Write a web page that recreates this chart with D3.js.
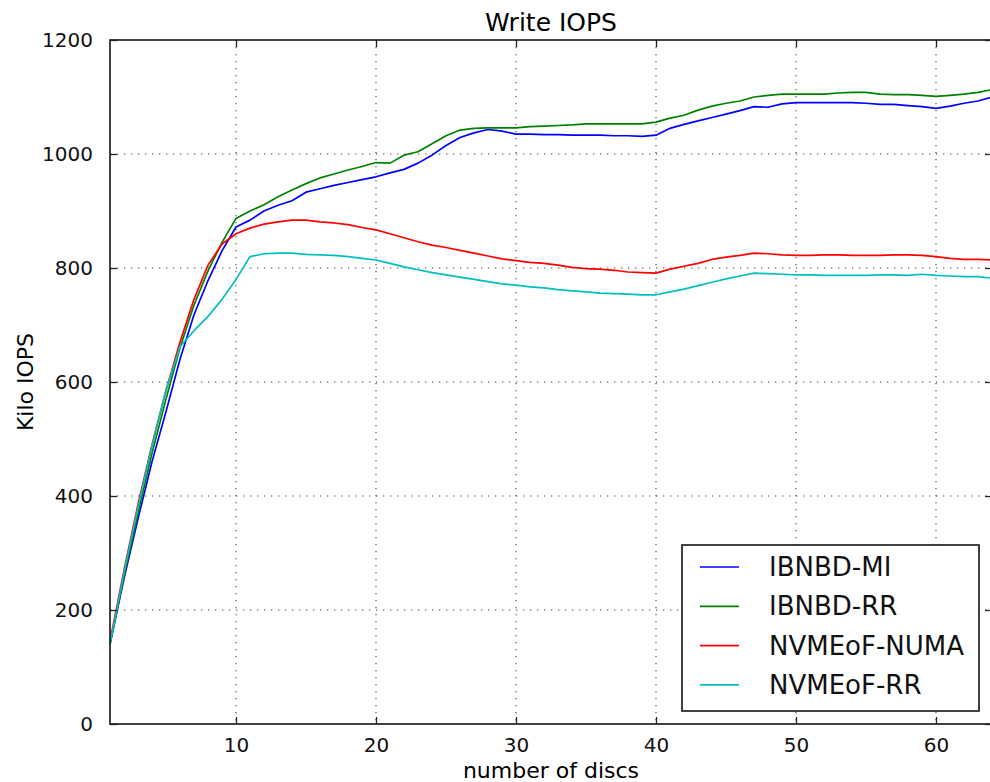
<!DOCTYPE html>
<html>
<head>
<meta charset="utf-8">
<script src="https://cdn.jsdelivr.net/npm/d3@7"></script>
<style>
    body { margin: 0; background: #fff; }
    svg { display: block; font-family: "DejaVu Sans", sans-serif; }
    .grid line { stroke: #444; stroke-width: 1.1; stroke-dasharray: 1.3, 5.7; }
</style>
</head>
<body>
<script>
// DATA

let discs = d3.range(1, 65)     // x values: 1 .. 64 discs

let ibnbdMI = [
    140, 255, 360, 460, 548, 640, 718, 778, 830, 872,
    884, 900, 910, 918, 933, 939, 945, 950, 955, 960,
    967, 973, 984, 998, 1015, 1029, 1037, 1043, 1040, 1035,
    1035, 1034, 1034, 1033, 1033, 1033, 1032, 1032, 1031, 1033,
    1045, 1052, 1058, 1064, 1070, 1076, 1083, 1082, 1088, 1090,
    1090, 1090, 1090, 1090, 1089, 1087, 1087, 1085, 1083, 1080,
    1084, 1089, 1093, 1100
]

let ibnbdRR = [
    140, 260, 370, 475, 570, 660, 735, 795, 845, 887,
    900, 911, 925, 937, 948, 958, 965, 972, 978, 985,
    984, 998, 1004, 1018, 1032, 1042, 1045, 1046, 1046, 1046,
    1048, 1049, 1050, 1051, 1053, 1053, 1053, 1053, 1053, 1056,
    1063, 1068, 1077, 1084, 1089, 1093, 1100, 1103, 1105, 1105,
    1105, 1105, 1107, 1108, 1108, 1105, 1104, 1104, 1103, 1101,
    1103, 1105, 1108, 1113
]

let nvmeNUMA = [
    145, 270, 385, 490, 585, 670, 745, 805, 842, 860,
    870, 877, 881, 884, 884, 881, 879, 876, 871, 867,
    860, 853, 846, 840, 836, 831, 826, 821, 816, 813,
    810, 808, 805, 801, 799, 798, 796, 793, 792, 791,
    798, 803, 808, 815, 819, 822, 826, 825, 823, 822,
    822, 823, 823, 822, 822, 822, 823, 823, 822, 820,
    817, 815, 815, 814
]

let nvmeRR = [
    140, 265, 380, 488, 585, 662, 690, 715, 745, 780,
    820, 825, 826, 826, 824, 823, 822, 820, 817, 814,
    808, 802, 797, 792, 788, 784, 780, 776, 772, 770,
    767, 765, 762, 760, 758, 756, 755, 754, 753, 753,
    758, 763, 769, 775, 781, 786, 791, 790, 789, 788,
    788, 787, 787, 787, 787, 788, 788, 787, 789, 787,
    786, 785, 785, 782
]

let seriesNames = ['IBNBD-MI', 'IBNBD-RR', 'NVMEoF-NUMA', 'NVMEoF-RR']
let seriesValues = [ibnbdMI, ibnbdRR, nvmeNUMA, nvmeRR]
let colorMap = ['#0000ff', '#008000', '#ff0000', '#00bfbf']   // old matplotlib b, g, r, c

let xTicks = [10, 20, 30, 40, 50, 60]
let yTicks = [0, 200, 400, 600, 800, 1000, 1200]

// CANVAS AND SCALES
let width = 990
let height = 782
// plot box; the right edge falls just off the picture
let plotLeft = 110, plotRight = 992, plotTop = 40, plotBottom = 724

let svg = d3.select('body').append('svg')
    .attr('width', width)
    .attr('height', height)

let x = d3.scaleLinear().domain([1, 64]).range([plotLeft, plotRight])
let y = d3.scaleLinear().domain([0, 1200]).range([plotBottom, plotTop])

// dotted grid
let grid = svg.append('g').attr('class', 'grid')
grid.selectAll('.gx').data(xTicks).enter().append('line')
    .attr('x1', d => x(d)).attr('x2', d => x(d))
    .attr('y1', plotTop).attr('y2', plotBottom)
grid.selectAll('.gy').data(yTicks.slice(1, -1)).enter().append('line')
    .attr('x1', plotLeft).attr('x2', plotRight)
    .attr('y1', d => y(d)).attr('y2', d => y(d))

// data lines, drawn in legend order so cyan ends up on top
let line = d3.line()
    .x((d, i) => x(discs[i]))
    .y(d => y(d))

svg.append('g').selectAll('path')
    .data(seriesValues)
    .enter().append('path')
    .attr('d', d => line(d))
    .attr('fill', 'none')
    .attr('stroke', (d, i) => colorMap[i])
    .attr('stroke-width', 1.7)
    .attr('stroke-linejoin', 'round')

// axes: ticks point inward, on all four sides
let tickLen = 7
let axisStyle = g => {
    g.select('.domain').remove()
    g.selectAll('.tick line').attr('stroke', '#222').attr('stroke-width', 1.3)
    g.selectAll('.tick text').attr('fill', '#111').style('font-size', '20px')
    g.attr('font-family', null)
}

svg.append('g')
    .attr('transform', 'translate(0,' + plotBottom + ')')
    .call(d3.axisBottom(x).tickValues(xTicks).tickFormat(d3.format('d'))
        .tickSizeInner(-tickLen).tickSizeOuter(0).tickPadding(14))
    .call(axisStyle)

svg.append('g')
    .attr('transform', 'translate(0,' + plotTop + ')')
    .call(d3.axisTop(x).tickValues(xTicks).tickSizeInner(-tickLen).tickSizeOuter(0).tickFormat(''))
    .call(axisStyle)

svg.append('g')
    .attr('transform', 'translate(' + plotLeft + ',0)')
    .call(d3.axisLeft(y).tickValues(yTicks).tickFormat(d3.format('d'))
        .tickSizeInner(-tickLen).tickSizeOuter(0).tickPadding(17))
    .call(axisStyle)

svg.append('g')
    .attr('transform', 'translate(' + plotRight + ',0)')
    .call(d3.axisRight(y).tickValues(yTicks).tickSizeInner(-tickLen).tickSizeOuter(0).tickFormat(''))
    .call(axisStyle)

// frame
svg.append('rect')
    .attr('x', plotLeft).attr('y', plotTop)
    .attr('width', plotRight - plotLeft).attr('height', plotBottom - plotTop)
    .attr('fill', 'none')
    .attr('stroke', '#222')
    .attr('stroke-width', 1.7)

// TITLES
svg.append('text')
    .attr('x', (plotLeft + plotRight) / 2).attr('y', 31)
    .attr('text-anchor', 'middle')
    .style('font-size', '25px')
    .text('Write IOPS')

svg.append('text')
    .attr('x', (plotLeft + plotRight) / 2).attr('y', 778)
    .attr('text-anchor', 'middle')
    .style('font-size', '22px')
    .text('number of discs')

svg.append('text')
    .attr('transform', 'translate(33,' + (plotTop + plotBottom) / 2 + ') rotate(-90)')
    .attr('text-anchor', 'middle')
    .style('font-size', '22px')
    .text('Kilo IOPS')

// LEGEND
let legend = svg.append('g').attr('transform', 'translate(682,545)')

legend.append('rect')
    .attr('width', 297).attr('height', 166)
    .attr('fill', '#fff')
    .attr('stroke', '#222')
    .attr('stroke-width', 1.7)

let legendItem = legend.selectAll('.item')
    .data(seriesNames)
    .enter().append('g')
    .attr('transform', (d, i) => 'translate(0,' + (22 + i * 39.3) + ')')

legendItem.append('line')
    .attr('x1', 18).attr('x2', 57)
    .attr('stroke', (d, i) => colorMap[i])
    .attr('stroke-width', 1.7)

legendItem.append('text')
    .attr('x', 87).attr('dy', '0.35em')
    .style('font-size', '26px')
    .attr('fill', '#111')
    .text(d => d)
</script>
</body>
</html>
